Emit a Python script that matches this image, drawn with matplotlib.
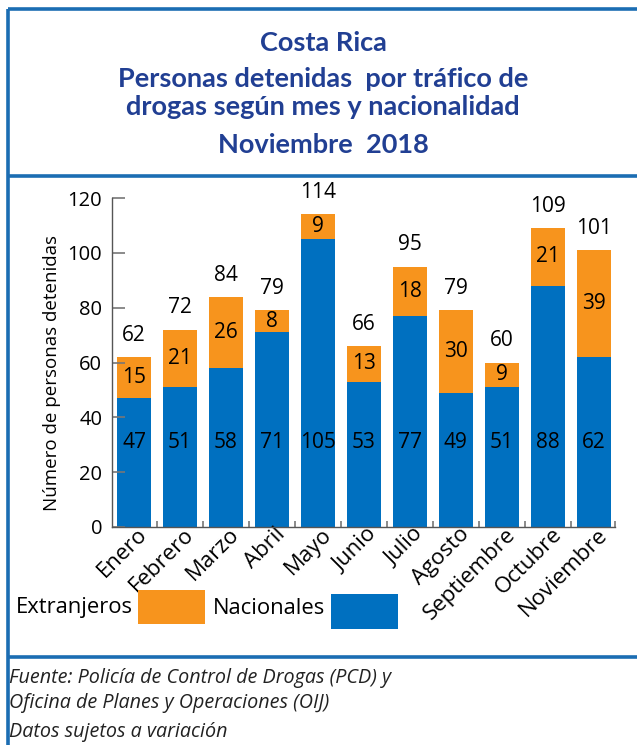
import matplotlib
matplotlib.use("Agg")
import matplotlib.pyplot as plt
from matplotlib.lines import Line2D
from matplotlib.patches import Rectangle
from matplotlib.transforms import ScaledTranslation
import numpy as np

months = ["Enero", "Febrero", "Marzo", "Abril", "Mayo", "Junio", "Julio",
          "Agosto", "Septiembre", "Octubre", "Noviembre"]
nacionales = [47, 51, 58, 71, 105, 53, 77, 49, 51, 88, 62]
extranjeros = [15, 21, 26, 8, 9, 13, 18, 30, 9, 21, 39]
yticks = [0, 20, 40, 60, 80, 100, 120]

W, H = 637, 745
BLUE = "#0070C0"
ORANGE = "#F7941D"
FRAME = "#1B6DB3"
TITLE = "#213F93"
FONT = "Open Sans"
TFONT = "Lato"
FS = 15

fig = plt.figure(figsize=(W / 100, H / 100), dpi=100)

def fx(x):
    return x / W

def fy(y):
    return 1 - y / H

# frame lines
for (x0, y0, x1, y1) in [(7.5, 9, 637, 9), (7.5, 9, 7.5, 745),
                         (7.5, 175.5, 637, 175.5), (7.5, 657, 637, 657)]:
    fig.add_artist(Line2D([fx(x0), fx(x1)], [fy(y0), fy(y1)],
                          transform=fig.transFigure, color=FRAME, lw=2.6,
                          solid_capstyle="butt"))

# titles
titles = [("Costa Rica", 43), ("Personas detenidas  por tráfico de", 79),
          ("drogas según mes y nacionalidad", 107), ("Noviembre  2018", 145)]
for t, y in titles:
    fig.text(fx(323), fy(y), t, ha="center", va="center", fontsize=19.5,
             fontweight="bold", color=TITLE, family=TFONT)

# axes
left, right, top, bottom = 112, 615, 198, 527
ax = fig.add_axes([fx(left), fy(bottom), (right - left) / W, (bottom - top) / H])
x = np.arange(len(months))
tot = [n + e for n, e in zip(nacionales, extranjeros)]
ax.bar(x, nacionales, width=0.74, color=BLUE)
ax.bar(x, extranjeros, width=0.74, bottom=nacionales, color=ORANGE)
ax.set_xlim(-0.48, 10.46)
ax.set_ylim(0, 120)
for i in range(len(months)):
    ax.text(x[i], 31, str(nacionales[i]), ha="center", va="center",
            fontsize=FS, family=FONT, color="black")
    ax.text(x[i], nacionales[i] + extranjeros[i] / 2, str(extranjeros[i]),
            ha="center", va="center", fontsize=FS, family=FONT, color="black")
    ax.text(x[i], tot[i] + 7.9, str(tot[i]), ha="center", va="center",
            fontsize=FS, family=FONT, color="black", clip_on=False)

for s in ["top", "right"]:
    ax.spines[s].set_visible(False)
for s in ["left", "bottom"]:
    ax.spines[s].set_color("#555555")
    ax.spines[s].set_linewidth(1.0)

ax.set_yticks(yticks)
ax.set_yticklabels([str(v) for v in yticks], family=FONT, fontsize=14.5)
ax.tick_params(axis="y", direction="in", length=9, color="#777777", pad=7,
               width=1.2)
ax.set_xticks(x)
ax.set_xticklabels(months, rotation=45, ha="right", va="top",
                   rotation_mode="anchor", family=FONT, fontsize=16)
ax.tick_params(axis="x", length=0, pad=0)
off = ScaledTranslation(3 / 100, 3 / 100, fig.dpi_scale_trans)
for lab in ax.get_xticklabels():
    lab.set_transform(lab.get_transform() + off)
ax.set_xticks(list(np.arange(0.5, 10.5, 1.0)) + [10.46], minor=True)
ax.tick_params(axis="x", which="minor", direction="in", length=4,
               color="#777777", width=1.2)

fig.text(fx(52), fy(373), "Número de personas detenidas", rotation=90,
         ha="center", va="center", fontsize=13.5, family=FONT)

# legend
fig.text(fx(16), fy(607), "Extranjeros", ha="left", va="center",
         fontsize=15.8, family=FONT)
fig.add_artist(Rectangle((fx(138), fy(624)), (205 - 138) / W, (624 - 590) / H,
                         transform=fig.transFigure, color=ORANGE, lw=0))
fig.text(fx(213), fy(609), "Nacionales", ha="left", va="center",
         fontsize=15.8, family=FONT)
fig.add_artist(Rectangle((fx(331), fy(629)), (398 - 331) / W, (629 - 594) / H,
                         transform=fig.transFigure, color=BLUE, lw=0))

# footnotes
for t, y in [("Fuente: Policía de Control de Drogas (PCD) y", 678),
             ("Oficina de Planes y Operaciones (OIJ)", 703),
             ("Datos sujetos a variación", 732)]:
    fig.text(fx(9), fy(y), t, ha="left", va="center", fontsize=14.2,
             style="italic", family=FONT, color="#222222")

fig.savefig("out.png", dpi=100)
